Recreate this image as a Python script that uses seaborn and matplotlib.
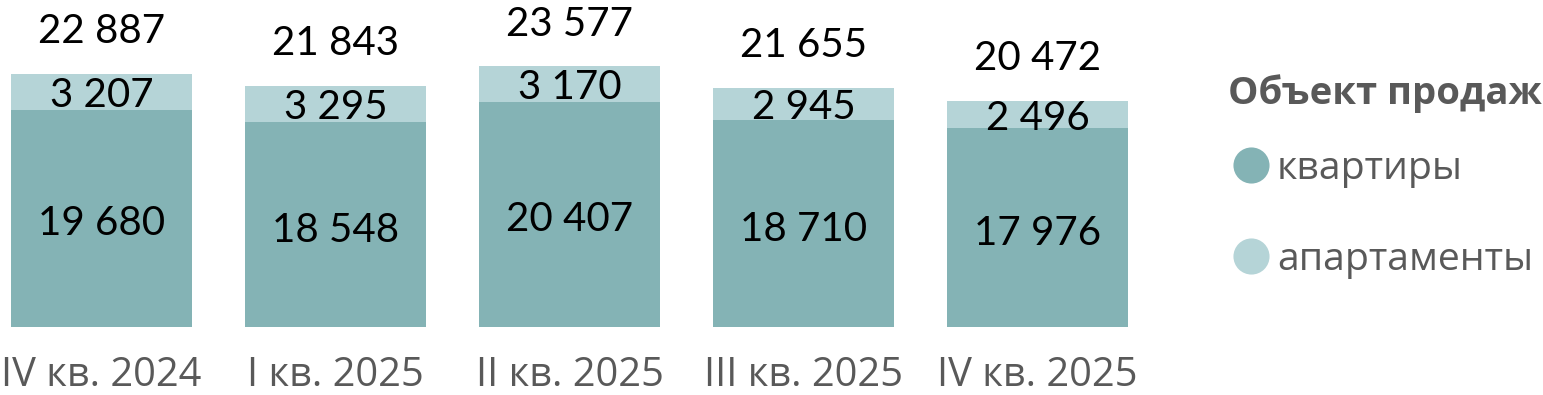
import matplotlib
matplotlib.use("Agg")
import matplotlib.pyplot as plt
import seaborn as sns
import pandas as pd
from matplotlib.lines import Line2D

quarters = ["IV кв. 2024", "I кв. 2025", "II кв. 2025", "III кв. 2025", "IV кв. 2025"]
flats = [19680, 18548, 20407, 18710, 17976]
apartments = [3207, 3295, 3170, 2945, 2496]
totals = [22887, 21843, 23577, 21655, 20472]
series_names = ["квартиры", "апартаменты"]
legend_title = "Объект продаж"

dark = "#84B3B5"
light = "#B5D4D7"
gray = "#595959"

def fmt(v):
    return f"{v:,}".replace(",", " ")

sns.set_theme(style="white")
plt.rcParams["font.family"] = ["Open Sans", "DejaVu Sans"]

W, H = 1543, 395
fig = plt.figure(figsize=(W / 100, H / 100), dpi=100)
ax_w_px = 1160
ax = fig.add_axes([0, (H - 327) / H, ax_w_px / W, 327 / H])

df = pd.DataFrame({"quarter": quarters, "flats": flats,
                   "apartments": apartments, "total": totals})
df["stack"] = df["flats"] + df["apartments"]

sns.barplot(data=df, x="quarter", y="stack", color=light, saturation=1,
            width=0.773, ax=ax, edgecolor="none")
sns.barplot(data=df, x="quarter", y="flats", color=dark, saturation=1,
            width=0.773, ax=ax, edgecolor="none")

spacing = 234.0
x0 = -101.5 / spacing
ax.set_xlim(x0, x0 + ax_w_px / spacing)
ax.set_ylim(0, 327 / 0.01105)

num_font = dict(family=["Lato", "DejaVu Sans"], fontsize=29, color="black",
                ha="center", va="center", textcoords="offset points")
for i, row in df.iterrows():
    ax.annotate(fmt(row["flats"]), (i, row["flats"] / 2), xytext=(0, -4), **num_font)
    ax.annotate(fmt(row["apartments"]), (i, row["flats"] + row["apartments"] / 2),
                xytext=(0, -2.5), **num_font)
    ax.annotate(fmt(row["total"]), (i, row["stack"]), xytext=(0, 30.5), **num_font)

ax.set_xlabel("")
ax.set_ylabel("")
ax.set_yticks([])
ax.tick_params(axis="x", length=0, pad=20.5, labelsize=28.7, labelcolor=gray)
for s in ax.spines.values():
    s.set_visible(False)
ax.patch.set_alpha(0)

handles = [Line2D([], [], marker="o", linestyle="none", markersize=26,
                  markerfacecolor=c, markeredgecolor="none")
           for c in (dark, light)]
leg = fig.legend(handles, series_names, loc="upper left",
                 bbox_to_anchor=(1212 / W, 1 - 58 / H), frameon=False,
                 title=legend_title, alignment="left",
                 prop=dict(family="Open Sans", size=28.3),
                 title_fontproperties=dict(family="Open Sans", size=27.5, weight="bold"),
                 handletextpad=0.05, labelspacing=1.34, handlelength=1.2,
                 borderaxespad=0)
leg._legend_box.sep = 27
leg.get_title().set_color(gray)
for t in leg.get_texts():
    t.set_color(gray)

fig.savefig("out.png", dpi=100)
